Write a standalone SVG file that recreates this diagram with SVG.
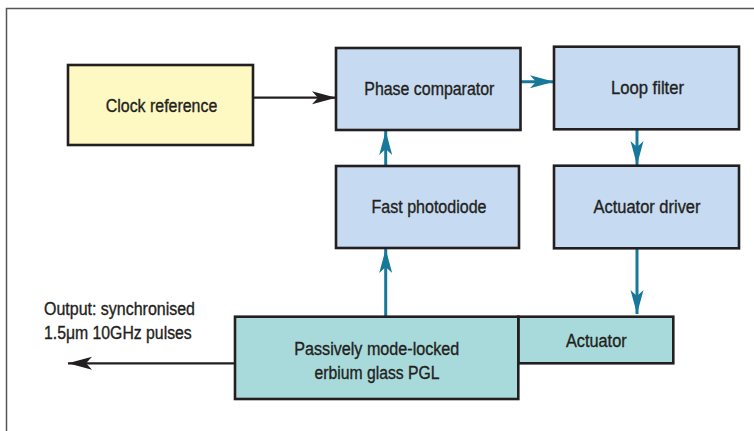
<svg xmlns="http://www.w3.org/2000/svg" width="754" height="431" viewBox="0 0 754 431">
<style>
.box{stroke:#231f20;stroke-width:2.6}
.yellow{fill:#fef8c2}
.blue{fill:#c6daf1}
.teal{fill:#a8dadb}
.lbl{font-family:"Liberation Sans",Arial,sans-serif;font-size:17.5px;fill:#231f20;stroke:#231f20;stroke-width:0.35;text-anchor:middle}
.out{font-family:"Liberation Sans",Arial,sans-serif;font-size:17.5px;fill:#231f20;stroke:#231f20;stroke-width:0.35}
.blk{stroke:#231f20;stroke-width:2.2;fill:none}
.tl{stroke:#17789a;stroke-width:3;fill:none}
</style>
<defs>
<marker id="hb" markerUnits="userSpaceOnUse" markerWidth="26" markerHeight="14" refX="24" refY="7" orient="auto" viewBox="0 0 26 14">
<path d="M24,7 L0,0.5 L6,7 L0,13.5 Z" fill="#231f20"/>
</marker>
<marker id="ht" markerUnits="userSpaceOnUse" markerWidth="26" markerHeight="14" refX="24" refY="7" orient="auto" viewBox="0 0 26 14">
<path d="M24,7 L0,0.5 L6,7 L0,13.5 Z" fill="#17789a"/>
</marker>
</defs>
<rect x="0" y="0" width="754" height="431" fill="#ffffff"/>
<path d="M6.5,431 V8.5 H754" fill="none" stroke="#555555" stroke-width="1.5"/>
<g id="connectors">
<line class="blk" x1="253" y1="97.7" x2="336" y2="97.7" marker-end="url(#hb)"/>
<line class="tl" x1="521" y1="81.7" x2="554" y2="81.7" marker-end="url(#ht)"/>
<line class="tl" x1="637" y1="130" x2="637" y2="165" marker-end="url(#ht)"/>
<line class="tl" x1="637" y1="249" x2="637" y2="314" marker-end="url(#ht)"/>
<line class="tl" x1="385.7" y1="166" x2="385.7" y2="131" marker-end="url(#ht)"/>
<line class="tl" x1="385.7" y1="317" x2="385.7" y2="249" marker-end="url(#ht)"/>
<line class="blk" x1="235" y1="363.3" x2="68" y2="363.3" marker-end="url(#hb)"/>
</g>
<g id="clock-reference">
<rect class="box yellow" x="68" y="65" width="185" height="80"/>
<text class="lbl" x="161.5" y="111.5" textLength="111.5" lengthAdjust="spacingAndGlyphs">Clock reference</text>
</g>
<g id="phase-comparator">
<rect class="box blue" x="336" y="48" width="184.5" height="82"/>
<text class="lbl" x="429.3" y="95" textLength="130" lengthAdjust="spacingAndGlyphs">Phase comparator</text>
</g>
<g id="loop-filter">
<rect class="box blue" x="554" y="46.7" width="185" height="82.6"/>
<text class="lbl" x="647.5" y="93.5" textLength="73" lengthAdjust="spacingAndGlyphs">Loop filter</text>
</g>
<g id="actuator-driver">
<rect class="box blue" x="554" y="165.7" width="185" height="82.6"/>
<text class="lbl" x="647" y="212.5" textLength="107" lengthAdjust="spacingAndGlyphs">Actuator driver</text>
</g>
<g id="fast-photodiode">
<rect class="box blue" x="336" y="166" width="183" height="82"/>
<text class="lbl" x="429" y="212.5" textLength="115" lengthAdjust="spacingAndGlyphs">Fast photodiode</text>
</g>
<g id="actuator">
<rect class="box teal" x="518.3" y="316.7" width="155" height="46.6"/>
<text class="lbl" x="596.3" y="346.5" textLength="60.7" lengthAdjust="spacingAndGlyphs">Actuator</text>
</g>
<g id="pgl">
<rect class="box teal" x="235" y="316.7" width="283.3" height="82.3"/>
<text class="lbl" x="376.8" y="355" textLength="165" lengthAdjust="spacingAndGlyphs">Passively mode-locked</text>
<text class="lbl" x="377" y="379" textLength="125" lengthAdjust="spacingAndGlyphs">erbium glass PGL</text>
</g>
<g id="output-label">
<text class="out" x="44" y="315" textLength="151" lengthAdjust="spacingAndGlyphs">Output: synchronised</text>
<text class="out" x="44" y="339" textLength="147.7" lengthAdjust="spacingAndGlyphs">1.5μm 10GHz pulses</text>
</g>
</svg>
